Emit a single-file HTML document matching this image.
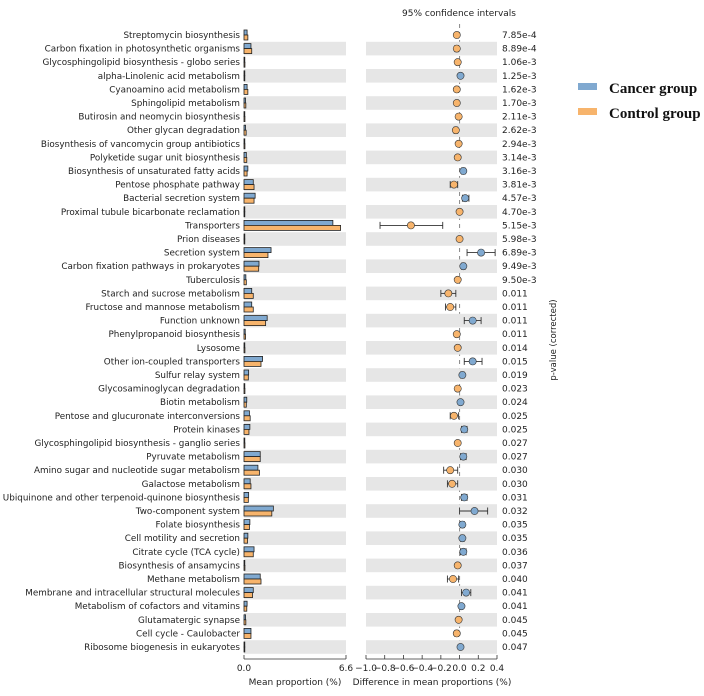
<!DOCTYPE html>
<html><head><meta charset="utf-8">
<style>
html,body{margin:0;padding:0;background:#fff;}
svg{display:block;font-family:"DejaVu Sans","Liberation Sans",sans-serif;}
</style></head>
<body>
<svg id="chart" width="704" height="696" viewBox="0 0 704 696" xmlns="http://www.w3.org/2000/svg">
<text x="459" y="16" font-size="9" text-anchor="middle" fill="#222">95% confidence intervals</text>
<text x="0" y="0" font-size="8.5" text-anchor="middle" fill="#222" transform="translate(556,340) rotate(-90)">p-value (corrected)</text>
<g>
<rect x="578" y="83" width="19" height="7" fill="#80a9d0"/>
<text x="609" y="93" font-family="Liberation Serif,serif" font-weight="bold" font-size="15" fill="#111">Cancer group</text>
<rect x="578" y="108" width="19" height="7" fill="#f7b46c"/>
<text x="609" y="118" font-family="Liberation Serif,serif" font-weight="bold" font-size="15" fill="#111">Control group</text>
</g>
<g id="rows"></g>
<g id="axes"></g>
</svg>
<script>
const names=["Streptomycin biosynthesis","Carbon fixation in photosynthetic organisms","Glycosphingolipid biosynthesis - globo series","alpha-Linolenic acid metabolism","Cyanoamino acid metabolism","Sphingolipid metabolism","Butirosin and neomycin biosynthesis","Other glycan degradation","Biosynthesis of vancomycin group antibiotics","Polyketide sugar unit biosynthesis","Biosynthesis of unsaturated fatty acids","Pentose phosphate pathway","Bacterial secretion system","Proximal tubule bicarbonate reclamation","Transporters","Prion diseases","Secretion system","Carbon fixation pathways in prokaryotes","Tuberculosis","Starch and sucrose metabolism","Fructose and mannose metabolism","Function unknown","Phenylpropanoid biosynthesis","Lysosome","Other ion-coupled transporters","Sulfur relay system","Glycosaminoglycan degradation","Biotin metabolism","Pentose and glucuronate interconversions","Protein kinases","Glycosphingolipid biosynthesis - ganglio series","Pyruvate metabolism","Amino sugar and nucleotide sugar metabolism","Galactose metabolism","Ubiquinone and other terpenoid-quinone biosynthesis","Two-component system","Folate biosynthesis","Cell motility and secretion","Citrate cycle (TCA cycle)","Biosynthesis of ansamycins","Methane metabolism","Membrane and intracellular structural molecules","Metabolism of cofactors and vitamins","Glutamatergic synapse","Cell cycle - Caulobacter","Ribosome biogenesis in eukaryotes"];
const cancerMean=[0.2,0.45,0.05,0.05,0.2,0.1,0.05,0.1,0.05,0.15,0.25,0.6,0.72,0.05,5.75,0.05,1.75,0.97,0.12,0.5,0.5,1.5,0.08,0.05,1.2,0.3,0.05,0.18,0.35,0.38,0.05,1.05,0.9,0.4,0.3,1.9,0.38,0.25,0.65,0.05,1.05,0.6,0.2,0.1,0.45,0.05];
const controlMean=[0.25,0.5,0.06,0.04,0.25,0.12,0.06,0.14,0.06,0.18,0.2,0.65,0.65,0.04,6.25,0.04,1.55,0.95,0.15,0.6,0.6,1.4,0.1,0.06,1.1,0.28,0.06,0.15,0.4,0.32,0.06,1.05,1.0,0.45,0.28,1.8,0.35,0.23,0.6,0.06,1.1,0.55,0.18,0.12,0.45,0.04];
const diffMean=[-0.03,-0.03,-0.02,0.01,-0.03,-0.03,-0.01,-0.04,-0.01,-0.02,0.04,-0.06,0.06,0.0,-0.52,0.0,0.23,0.04,-0.02,-0.12,-0.1,0.14,-0.03,-0.02,0.14,0.03,-0.02,0.01,-0.06,0.05,-0.02,0.04,-0.1,-0.08,0.05,0.16,0.03,0.03,0.04,-0.02,-0.07,0.07,0.02,-0.01,-0.03,0.01];
const ciLow=[-0.04,-0.05,-0.03,0.0,-0.04,-0.04,-0.02,-0.06,-0.02,-0.03,0.02,-0.1,0.03,-0.01,-0.85,-0.01,0.08,0.02,-0.03,-0.2,-0.15,0.05,-0.04,-0.03,0.05,0.01,-0.03,0.0,-0.1,0.02,-0.03,0.01,-0.17,-0.13,0.02,0.0,0.01,0.01,0.01,-0.03,-0.13,0.02,0.01,-0.02,-0.05,0.0];
const ciHigh=[-0.01,-0.01,-0.01,0.02,-0.01,-0.01,0.0,-0.02,0.0,-0.01,0.06,-0.02,0.1,0.01,-0.18,0.01,0.38,0.06,-0.01,-0.04,-0.04,0.23,-0.02,-0.01,0.24,0.05,-0.01,0.02,-0.01,0.08,-0.01,0.07,-0.02,-0.02,0.08,0.3,0.05,0.05,0.07,-0.01,-0.01,0.12,0.03,0.0,-0.01,0.02];
const pvals=["7.85e-4","8.89e-4","1.06e-3","1.25e-3","1.62e-3","1.70e-3","2.11e-3","2.62e-3","2.94e-3","3.14e-3","3.16e-3","3.81e-3","4.57e-3","4.70e-3","5.15e-3","5.98e-3","6.89e-3","9.49e-3","9.50e-3","0.011","0.011","0.011","0.011","0.014","0.015","0.019","0.023","0.024","0.025","0.025","0.027","0.027","0.030","0.030","0.031","0.032","0.035","0.035","0.036","0.037","0.040","0.041","0.041","0.045","0.045","0.047"];
const leftTicks=[0,6.6];
const rightTicks=[-1.0,-0.8,-0.6,-0.4,-0.2,0.0,0.2,0.4];

const NS="http://www.w3.org/2000/svg";
const L0=244,L1=346,LMAX=6.6;
const R0=366,R1=497,RMIN=-1.0,RMAX=0.4;
const Y0=35,PITCH=13.6;
const xL=v=>L0+v/LMAX*(L1-L0);
const xR=v=>R0+(v-RMIN)/(RMAX-RMIN)*(R1-R0);
const yRow=i=>Y0+i*PITCH;
const BLUE="#80a9d0",ORANGE="#f7b46c";
function mk(tag,attrs,parent){const e=document.createElementNS(NS,tag);for(const k in attrs)e.setAttribute(k,attrs[k]);parent.appendChild(e);return e;}
const rows=document.getElementById('rows');
const axes=document.getElementById('axes');

const z=mk('line',{x1:xR(0),x2:xR(0),y1:24,y2:655,stroke:'#888','stroke-width':1,'stroke-dasharray':'4,4'},rows);



names.forEach((n,i)=>{
  const y=yRow(i);
  const g=mk('g',{},rows);
  
  
  if(i%2===1){
    const b1=mk('rect',{x:L0,y:y-6.8,width:L1-L0,height:13.6,fill:'#e6e6e6'},g);
    
    
    const b2=mk('rect',{x:R0,y:y-6.8,width:R1-R0,height:13.6,fill:'#e6e6e6'},g);
    
    
  }
  const t=mk('text',{x:240,y:y+3,'font-size':8.8,'text-anchor':'end',fill:'#222'},g);
  t.textContent=n;
  
  
  const bc=mk('rect',{x:L0,y:y-5,width:Math.max(0.8,xL(cancerMean[i])-L0),height:5,fill:BLUE,stroke:'#222','stroke-width':0.8},g);
  
  
  const bo=mk('rect',{x:L0,y:y,width:Math.max(0.8,xL(controlMean[i])-L0),height:5,fill:ORANGE,stroke:'#222','stroke-width':0.8},g);
  
  
  const eb=mk('g',{stroke:'#333','stroke-width':0.9},g);
  
  
  mk('line',{x1:xR(ciLow[i]),x2:xR(ciHigh[i]),y1:y,y2:y},eb);
  mk('line',{x1:xR(ciLow[i]),x2:xR(ciLow[i]),y1:y-3.5,y2:y+3.5},eb);
  mk('line',{x1:xR(ciHigh[i]),x2:xR(ciHigh[i]),y1:y-3.5,y2:y+3.5},eb);
  const c=mk('circle',{cx:xR(diffMean[i]),cy:y,r:3.6,fill:diffMean[i]>0?BLUE:ORANGE,stroke:'#333','stroke-width':0.6},g);
  
  
  const p=mk('text',{x:502,y:y+3,'font-size':9,fill:'#222'},g);
  p.textContent=pvals[i];
  
  
});

const AY=659;
const la=mk('line',{x1:L0,x2:L1,y1:AY,y2:AY,stroke:'#333','stroke-width':0.8},axes);


leftTicks.forEach(v=>{
  mk('line',{x1:xL(v),x2:xL(v),y1:AY-4,y2:AY,stroke:'#333','stroke-width':0.8},axes);
  const t=mk('text',{x:xL(v),y:AY+12,'font-size':9,'text-anchor':'middle',fill:'#222'},axes);
  t.textContent=v.toFixed(1);
  
  
});
const ra=mk('line',{x1:R0,x2:R1,y1:AY,y2:AY,stroke:'#333','stroke-width':0.8},axes);


rightTicks.forEach(v=>{
  mk('line',{x1:xR(v),x2:xR(v),y1:AY-4,y2:AY,stroke:'#333','stroke-width':0.8},axes);
  const t=mk('text',{x:xR(v),y:AY+12,'font-size':9,'text-anchor':'middle',fill:'#222'},axes);
  t.textContent=(v<0?'\u2212':'')+Math.abs(v).toFixed(1);
  
  
});
const lt=mk('text',{x:295,y:AY+26,'font-size':9,'text-anchor':'middle',fill:'#222'},axes);
lt.textContent='Mean proportion (%)';


const rt=mk('text',{x:432,y:AY+26,'font-size':9,'text-anchor':'middle',fill:'#222'},axes);
rt.textContent='Difference in mean proportions (%)';


</script>
</body></html>
